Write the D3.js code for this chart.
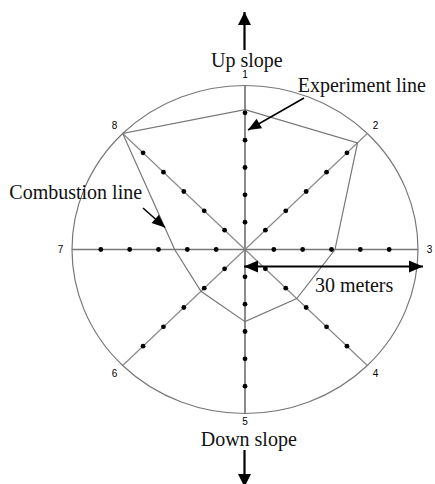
<!DOCTYPE html>
<html>
<head>
<meta charset="utf-8">
<script src="https://cdn.jsdelivr.net/npm/d3@7"></script>
<style>
  body { margin: 0; background: #fff; }
  svg { display: block; }
</style>
</head>
<body>
<div id="chart"></div>
<script>
// directions 1..8, clockwise from up slope
var axisLabels = ["1", "2", "3", "4", "5", "6", "7", "8"];
// combustion line distance (meters) on each direction
var combustion = [25.6, 27.6, 15.6, 12.7, 13.2, 10.8, 12.2, 30];
// measuring points along each experiment line
var dotDistances = [5, 10, 15, 20, 25];
var maxDistance = 30;

var width = 435, height = 484;
var cx = 245, cy = 249.5;

var svg = d3.select("#chart")
  .append("svg")
  .attr("width", width)
  .attr("height", height);

// picture is a bit stretched sideways, so two radius scales
var rx = d3.scaleLinear().domain([0, maxDistance]).range([0, 173]);
var ry = d3.scaleLinear().domain([0, maxDistance]).range([0, 164]);
var angle = d3.scaleLinear().domain([0, axisLabels.length]).range([0, 2 * Math.PI]);

function px(i, v) { return cx + rx(v) * Math.sin(angle(i)); }
function py(i, v) { return cy - ry(v) * Math.cos(angle(i)); }

// outer circle
svg.append("ellipse")
  .attr("cx", cx)
  .attr("cy", cy)
  .attr("rx", rx(maxDistance))
  .attr("ry", ry(maxDistance))
  .style("fill", "none")
  .style("stroke", "#777")
  .style("stroke-width", 1.2);

// experiment lines
svg.selectAll(".axis")
  .data(axisLabels)
  .enter()
  .append("line")
  .attr("class", "axis")
  .attr("x1", cx)
  .attr("y1", cy)
  .attr("x2", function(d, i) { return px(i, maxDistance); })
  .attr("y2", function(d, i) { return py(i, maxDistance); })
  .style("stroke", function(d, i) { return i % 2 == 0 ? "#777" : "#8a8a8a"; })
  .style("stroke-width", function(d, i) { return i % 2 == 0 ? 1.7 : 1.2; });

// combustion polygon
var line = d3.line()
  .x(function(d, i) { return px(i, d); })
  .y(function(d, i) { return py(i, d); })
  .curve(d3.curveLinearClosed);

svg.append("path")
  .attr("d", line(combustion))
  .style("fill", "none")
  .style("stroke", "#777")
  .style("stroke-width", 1.2);

// dots
var dots = [];
axisLabels.forEach(function(a, i) {
  dotDistances.forEach(function(v) { dots.push({ i: i, v: v }); });
});

svg.selectAll(".dot")
  .data(dots)
  .enter()
  .append("circle")
  .attr("class", "dot")
  .attr("cx", function(d) { return px(d.i, d.v); })
  .attr("cy", function(d) { return py(d.i, d.v); })
  .attr("r", 2.4)
  .style("fill", "#000");

// direction numbers (5 sits a touch closer, above "Down slope")
svg.selectAll(".num")
  .data(axisLabels)
  .enter()
  .append("text")
  .attr("class", "num")
  .attr("x", function(d, i) { return px(i, 32); })
  .attr("y", function(d, i) { return py(i, i == 4 ? 31.4 : 32); })
  .attr("text-anchor", "middle")
  .attr("dy", "0.35em")
  .style("font-family", "Liberation Sans, Arial, sans-serif")
  .style("font-size", "10px")
  .style("fill", "#000")
  .text(function(d) { return d; });

// arrows
function head(x1, y1, x2, y2, len, hw) {
  var dx = x2 - x1, dy = y2 - y1, l = Math.sqrt(dx * dx + dy * dy);
  var ux = dx / l, uy = dy / l;
  var bx = x2 - ux * len, by = y2 - uy * len;
  return [[x2, y2], [bx - uy * hw, by + ux * hw], [bx + uy * hw, by - ux * hw]];
}

function arrow(x1, y1, x2, y2, len, hw, sw, both) {
  svg.append("line")
    .attr("x1", x1).attr("y1", y1)
    .attr("x2", x2).attr("y2", y2)
    .style("stroke", "#000")
    .style("stroke-width", sw);
  svg.append("polygon")
    .attr("points", head(x1, y1, x2, y2, len, hw).join(" "))
    .style("fill", "#000");
  if (both) {
    svg.append("polygon")
      .attr("points", head(x2, y2, x1, y1, len, hw).join(" "))
      .style("fill", "#000");
  }
}

arrow(244.5, 50, 244.5, 12, 13, 6.5, 2.2, false);
arrow(244.5, 450, 244.5, 487, 13, 6.5, 2.2, false);
arrow(304, 98, 248, 130, 13, 5.5, 1.5, false);
arrow(143, 208, 165, 227.5, 13, 5.5, 1.5, false);
arrow(244, 266.5, 423, 266.5, 14, 6, 2, true);

// texts
var notes = [
  { t: "Up slope", x: 211, y: 66.5 },
  { t: "Down slope", x: 200.7, y: 445.5 },
  { t: "Experiment line", x: 297.7, y: 92 },
  { t: "Combustion line", x: 9.3, y: 199.3 },
  { t: "30 meters", x: 315, y: 291.7 }
];

svg.selectAll(".note")
  .data(notes)
  .enter()
  .append("text")
  .attr("class", "note")
  .attr("x", function(d) { return d.x; })
  .attr("y", function(d) { return d.y; })
  .style("font-family", "Liberation Serif, Times New Roman, serif")
  .style("font-size", "20px")
  .style("fill", "#111")
  .text(function(d) { return d.t; });
</script>
</body>
</html>
